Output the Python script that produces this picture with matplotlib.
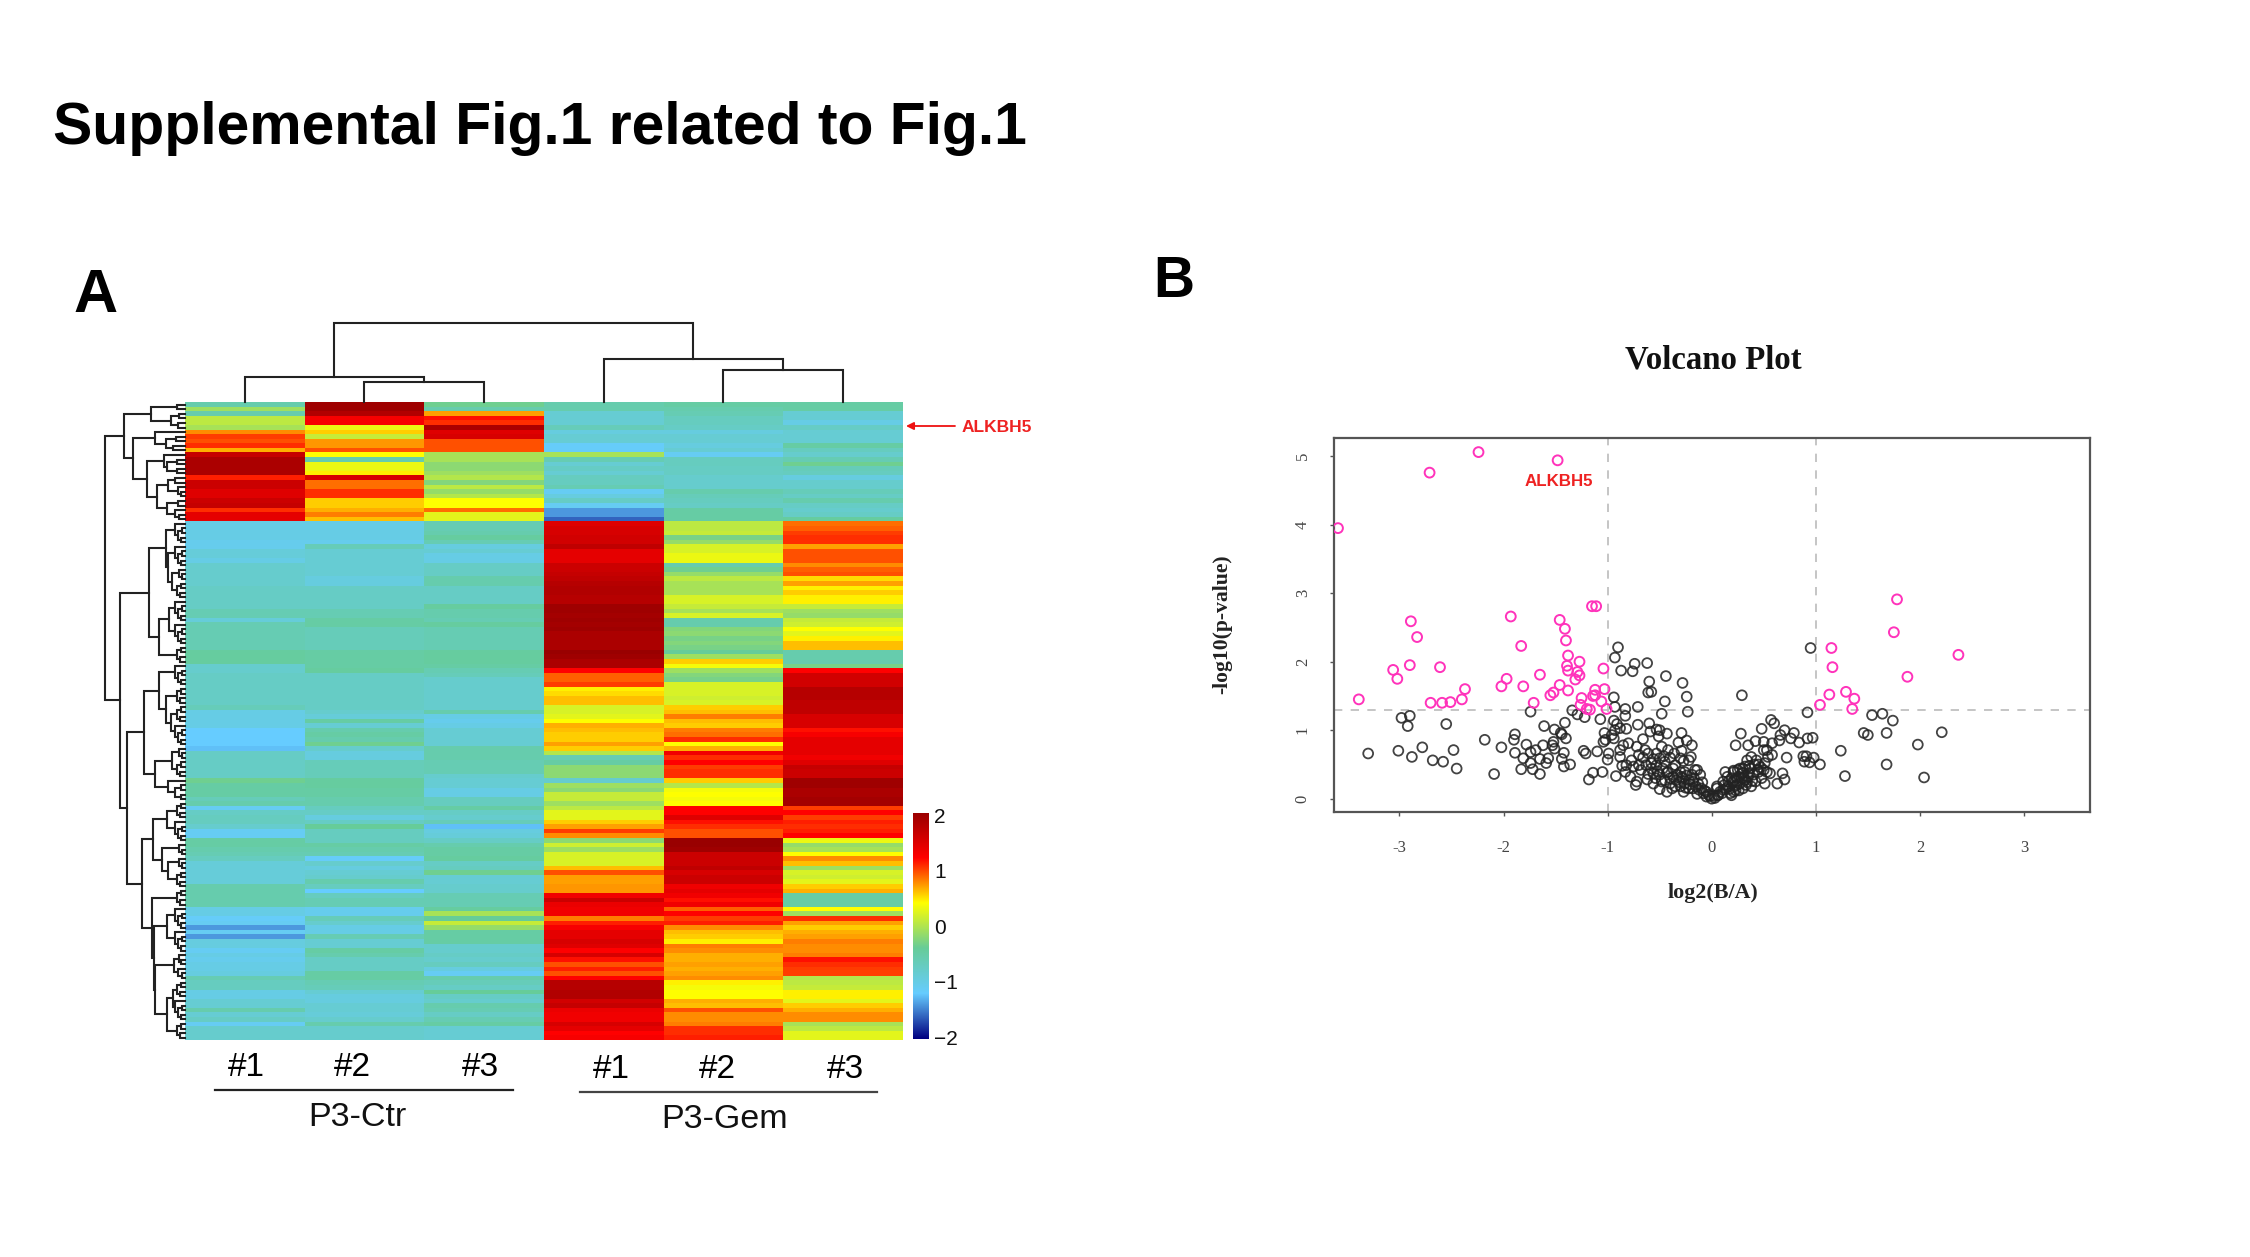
import numpy as np
import matplotlib
matplotlib.use('Agg')
import matplotlib.pyplot as plt
from matplotlib.colors import LinearSegmentedColormap

plt.rcParams['font.family'] = ['Liberation Sans', 'DejaVu Sans']

W, H = 2250, 1257

# heatmap columns, top row first
ctr1 = [-.55, -.1, -.55, .05, .05, -.05, .75, 1.0, .95, 1.05, .65, 1.65, 1.85, 1.85, 1.85, 1.85, 1.1, 1.6, 1.6, 1.45, 1.45, 1.6, 1.65, 1.05, 1.4, 1.4,
        -1.0, -1.0, -1.0, -1.0, -1.05, -1.05, -.9, -.9, -1.0, -.8, -.8, -.8, -.8, -.8, -.75, -.75, -.75, -.75, -.75, -.6, -.6, -.9, -.6, -.6, -.6, -.6, -.6, -.6, -.45, -.45, -.45, -.8, -.8,
        -.75, -.75, -.75, -.75, -.75, -.75, -.75, -.65, -1.0, -1.0, -1.0, -1.0, -1.2, -1.2, -1.2, -1.2, -1.25, -.75, -.75, -.75, -.75, -.75, -.75, -.35, -.5, -.5, -.5, -.65,
        -.55, -1.1, -.75, -.7, -.7, -.8, -1.1, -1.1, -.5, -.5, -.55, -.6, -.7, -.9, -.9, -.9, -.9, -.9, -.55, -.55, -.55, -.55, -.55, -1.0, -1.0, -1.15, -1.1, -1.4, -1.1, -1.4, -.95, -.95,
        -1.1, -1.0, -1.05, -1.0, -1.0, -.95, -.6, -.7, -.7, -1.0, -1.0, -.85, -.85, -.55, -.85, -.75, -1.1, -.8, -.8, -.8]
ctr2 = [1.95, 1.95, 1.8, 1.25, 1.25, .3, .55, .1, .72, .72, .95, .4, -.55, .3, .3, .45, 1.5, .85, .85, 1.05, 1.05, .55, .55, .65, .8, .6,
        -1.0, -1.0, -1.0, -1.0, -1.05, -.65, -.85, -.85, -.85, -.85, -.85, -.85, -.95, -.95, -.75, -.75, -.75, -.75, -.75, -.6, -.6, -.5, -.5, -.65, -.65, -.65, -.65, -.65, -.5, -.5, -.5, -.5, -.45,
        -.75, -.75, -.75, -.75, -.75, -.75, -.75, -.75, -.8, -.9, -.5, -.85, -.55, -.5, -.55, -.35, -.8, -.95, -.95, -.65, -.65, -.65, -.65, -.45, -.45, -.5, -.5, -.55,
        -.55, -.7, -.75, -.95, -.75, -.4, -.7, -.7, -.7, -.5, -.55, -.6, -1.15, -.8, -.95, -.85, -.8, -.55, -.7, -1.2, -.7, -.6, -.6, -1.05, -1.05, -.65, -.8, -1.0, -1.0, -.6, -.85, -.85,
        -.5, -.55, -.75, -.75, -.75, -.5, -.5, -.6, -.65, -.85, -.95, -.95, -.85, -.85, -.9, -.8, -.55, -.8, -.8, -.8]
ctr3 = [-.35, -.55, .7, 1.15, 1.05, 1.85, 1.45, 1.5, .95, .95, .95, -.05, -.05, -.2, -.2, -.1, .0, -.25, .05, -.15, .0, .4, .4, .85, .25, .25,
        -.6, -.6, -.55, -.45, -.6, -.95, -.85, -1.0, -1.0, -.75, -.75, -.75, -.55, -.55, -.75, -.75, -.75, -.75, -.45, -.55, -.55, -.6, -.45, -.6, -.6, -.6, -.6, -.6, -.45, -.45, -.45, -.5, -.6,
        -.65, -.8, -.8, -.8, -.8, -.8, -.8, -.8, -.55, -1.0, -1.05, -1.0, -.85, -.85, -.85, -.85, -.55, -.55, -.55, -.6, -.6, -.6, -.8, -.85, -.85, -1.0, -1.0, -.7,
        -.7, -.5, -.75, -.8, -.65, -1.25, -.95, -.9, -.75, -.55, -.5, -.5, -.45, -.75, -.7, -.35, -.85, -.85, -.8, -.8, -.6, -.6, -.6, -.45, -.05, -.4, .1, -.15, -.5, -.5, -.5, -.8,
        -.8, -.75, -.8, -.7, -.95, -1.1, -.55, -.65, -.75, -.4, -.75, -.8, -.55, -.6, -.75, -.6, -.5, -.85, -.85, -.85]
gem1 = [-.55, -.55, -.85, -.85, -.85, -.65, -.95, -.85, -.85, -1.15, -1.15, -.05, -.6, -.85, -.75, -.85, -.7, -.7, -.6, -1.1, -.95, -.75, -1.1, -1.4, -1.4, -1.6,
        1.45, 1.5, 1.5, 1.55, 1.55, 1.7, 1.4, 1.4, 1.4, 1.6, 1.6, 1.65, 1.7, 1.75, 1.8, 1.8, 1.75, 1.75, 1.95, 1.95, 1.9, 1.95, 1.9, 1.95, 1.85, 1.85, 1.85, 1.85, 2.0, 1.95, 1.85, 1.85, 1.2,
        .9, .9, 1.0, .45, .5, .6, .6, .2, .2, .25, .4, .65, .6, .55, .55, .7, .55, .0, -.6, -.5, -.2, -.2, -.2, -.8, -.1, -.2, .1, .1,
        -.1, .05, .25, .25, .55, .7, 1.0, .75, -.2, .15, -.1, .2, .2, .2, .6, .95, .7, .7, .72, .72, 1.3, 1.6, 1.35, 1.3, 1.3, .8, 1.1, 1.25, 1.4, 1.4, 1.5, 1.45,
        1.2, 1.5, 1.15, .95, 1.1, .95, 1.2, 1.75, 1.75, 1.8, 1.8, 1.55, 1.65, 1.35, 1.3, 1.3, 1.5, 1.4, 1.2, 1.25]
gem2 = [-.5, -.55, -.6, -.7, -.7, -.75, -.95, -.85, -.85, -.95, -.85, -1.1, -.7, -.7, -.72, -.72, -.8, -.8, -.8, -.55, -.65, -.7, -.75, -.5, -.5, -.5,
        .05, .05, .1, -.3, -.15, .2, .2, .3, .3, -.55, -.35, -.15, .05, -.05, -.05, -.05, .2, .2, .1, -.05, .2, -.55, -.55, -.25, -.2, -.3, -.25, -.3, -.4, -.1, .55, .35, -.1,
        -.25, -.3, .2, .2, .2, .15, .2, .55, .6, .8, .6, .55, .8, .85, 1.05, .4, .65, 1.3, 1.05, 1.2, 1.0, 1.05, 1.05, .55, .0, .35, .4, .35,
        .4, 1.2, 1.2, 1.45, 1.15, 1.05, .95, .95, 2.0, 2.0, 1.95, 1.6, 1.6, 1.6, 1.7, 1.5, 1.6, 1.6, 1.3, 1.4, 1.3, 1.15, 1.3, .9, 1.2, 1.0, 1.1, .75, .6, .55, .45, .8,
        .75, .65, .65, .7, .65, .7, .75, .45, .35, .4, .4, .65, .6, .95, .75, .75, .8, 1.05, 1.05, 1.1]
gem3 = [-.5, -.5, -.85, -.85, -1.0, -.75, -.85, -.85, -.85, -.5, -.7, -.8, -.6, -.35, -.65, -.7, -.95, -.8, -.8, -.65, -.75, -.55, -.75, -.8, -.75, -.45,
        .85, .9, 1.0, 1.05, 1.05, .7, .95, .95, .95, .75, .9, .95, .5, .7, .45, .55, .45, .45, .1, -.1, -.15, .1, .15, .4, .25, .45, .6, .6, -.55, -.55, -.55, -.3, 1.2,
        1.55, 1.55, 1.55, 1.75, 1.75, 1.75, 1.7, 1.7, 1.7, 1.5, 1.5, 1.5, 1.15, 1.25, 1.4, 1.4, 1.4, 1.4, 1.3, 1.45, 1.65, 1.6, 1.6, 1.95, 1.95, 1.85, 1.85, 1.9,
        1.9, 1.0, 1.2, 1.0, 1.1, 1.05, 1.1, 1.2, .3, -.15, -.05, .4, .75, .6, -.1, .2, .15, .25, .55, .65, -.5, -.5, -.5, .4, -.1, 1.05, .7, .55, .65, .7, .8, .75,
        .75, .8, 1.15, 1.05, 1.0, 1.0, .0, .05, .1, .45, .45, .25, .55, .65, .75, .75, -.05, .05, .25, .25]
assert [len(c) for c in (ctr1, ctr2, ctr3, gem1, gem2, gem3)] == [139] * 6, [len(c) for c in (ctr1, ctr2, ctr3, gem1, gem2, gem3)]

group_labels = ['P3-Ctr', 'P3-Gem']
sample_labels = ['#1', '#2', '#3']
cb_ticks = [-2, -1, 0, 1, 2]

# small bits of the row tree: (height, child, child), 0 is a leaf
b2 = (.05, 0, 0)
b3 = (.07, 0, (.04, 0, 0))
b4 = (.10, (.05, 0, 0), (.06, 0, 0))
b5 = (.12, 0, (.09, (.04, 0, 0), (.05, 0, 0)))
b6 = (.14, (.08, 0, (.05, 0, 0)), (.09, 0, (.04, 0, 0)))
b7 = (.16, (.08, 0, (.04, 0, 0)), (.10, (.05, 0, 0), (.06, 0, 0)))

row_top = (.76,
           (.42, (.10, 0, 0), (.17, (.07, 0, 0), (.09, 0, 0))),
           (.645,
            (.375, 0, (.24, (.11, 0, 0), (.15, 0, 0))),
            (.47,
             (.26, 0, (.22, (.10, 0, 0), (.10, 0, 0))),
             (.35, (.21, (.12, 0, 0), (.09, 0, (.05, 0, 0))), (.22, (.09, 0, 0), (.13, 0, (.08, 0, 0)))))))
row_upper = (.445,
             (.24, b5, (.21, b5, b7)),
             (.32, (.20, b5, b5), b4))
row_lower = (.72,
             (.51,
              (.33, b5, (.24, b4, (.17, b4, b5))),
              (.37, (.16, b3, b4), (.21, 0, (.12, b2, b2)))),
             (.54,
              (.40, (.22, b4, b5), (.29, b3, (.21, b3, b4))),
              (.41, b4, (.39, (.23, b5, b5), (.37, b6, (.22, (.15, b4, b5), b4))))))
row_tree = (1.0, row_top, (.81, row_upper, row_lower))

col_tree = (1.0,
            (.32, 0, (.26, 0, 0)),
            (.54, 0, (.41, 0, 0)))

# volcano points
up_x = [-3.59, -2.71, -2.24, -1.48, -1.11, -1.15, -2.89, -2.83, -2.90, -3.06, -3.02, -3.39, -2.70, -2.59, -2.51, -2.40, -2.37, -2.61, -1.93, -1.83, -1.97, -2.02, -1.81, -1.71, -1.65,
        -1.46, -1.41, -1.40, -1.38, -1.27, -1.39, -1.38, -1.29, -1.27, -1.31, -1.46, -1.38, -1.52, -1.55, -1.04, -1.03, -1.12, -1.12, -1.14, -1.25, -1.06, -1.26, -1.20, -1.17, -1.01,
        1.78, 1.75, 1.15, 1.16, 2.37, 1.88, 1.29, 1.13, 1.37, 1.04, 1.35]
up_y = [3.95, 4.76, 5.06, 4.94, 2.81, 2.81, 2.59, 2.36, 1.95, 1.88, 1.75, 1.45, 1.40, 1.40, 1.41, 1.45, 1.60, 1.92, 2.66, 2.23, 1.75, 1.64, 1.64, 1.40, 1.81,
        2.61, 2.48, 2.31, 2.09, 2.00, 1.94, 1.87, 1.85, 1.80, 1.74, 1.66, 1.58, 1.55, 1.51, 1.90, 1.60, 1.59, 1.51, 1.50, 1.47, 1.42, 1.37, 1.31, 1.30, 1.31,
        2.91, 2.43, 2.20, 1.92, 2.10, 1.78, 1.56, 1.52, 1.46, 1.37, 1.31]
ns_x = [-2.98, -2.90, -2.92, -2.55, -3.30, -3.01, -2.88, -2.78, -2.68, -2.58, -2.48, -2.45, -2.18, -2.02, -2.09, -1.89, -1.90, -1.89, -1.78, -1.81, -1.83, -1.74, -1.69, -1.74, -1.72,
        -1.65, -1.62, -1.65, -1.57, -1.59, -1.61, -1.51, -1.45, -1.44, -1.52, -1.53, -1.51, -1.40, -1.41, -1.42, -1.44, -1.42, -1.36, -1.74, -1.34, -1.29, -1.22, -1.07, -1.23, -1.21,
        -1.10, -1.14, -1.05, -1.18,
        -.90, -.93, -.87, -.76, -.74, -.62, -.60, -.44, -.28, -.24, -.45, -.61, -.58, -.94, -.93, -.83, -.71, -.48, -.23, -.83, -.94, -.91, -.71, -.60, -.53, -.50, -.82, -1.03, -1.02, -1.04,
        -.96, -.93, -.88, -.94, -.29, -.43, -.51, -.59, -.66, -.32, -.24, -.19, -.80, -.85, -.88, -.99, -1.0, -.72, -.64, -.53, -.48, -.42, -.29, -.20, -.70, -.77, -.88, -.53, -.45, -.35,
        -.22, -.30, -.86, -.82, -.75, -.63, -.58, -.50, -.70, -.92, -.83, -.78, -.72, -.73, -.61, -.54, -.50, -.43, -.48, -.42, -.37, -.37, -.30, -.29, -.22, -.16, -.18, -.13, -.14, -.08,
        -.05, .0, .03, .06, .05, .11, .16, .21, .22, .19, .27, .29, .34, .35,
        -.56, -.50, -.45, -.40, -.34, -.26, -.19, -.11, -.26, -.30, -.35, -.22, -.27, -.56, -.18, -.10, -.05, -.02,
        .13, .11, .05, .06, .10, .18, .21, .16, .21, .19, .24, .27, .29, .32, .32, .37, .35, .40, .43, .38, .45, .50, .51, .48, .53, .56, .51, .54, .50, .58, .53, .68, .70, .63, .72,
        .29, .28, .23, .35, .42, .50, .58, .65, .66, .48, .57, .60, .70, .76, .79, .84, .92, .97, .92, .95, .88, .91, .89, .94, .98, 1.04, 1.24, 1.28, 1.54, 1.64, 1.74, 1.46, 1.50, 1.68,
        2.21, 1.98, 1.68, 2.04, .15, .24, .30, .33, .42, .38, .26, .14, .22, .30, .45,
        -.68, -.62, -.58, -.52, -.47, -.43, -.40, -.38, -.33, -.31, -.28, -.25, -.24, -.21, -.17, -.15, -.12, -.09, -.07, -.03, -.46, -.40, -.56, -.66, -.61, -.36, -.27, -.14,
        .02, .08, .12, .17, .20, .23, .26, .31, .34, .39, .44, .47, .36, .41, .25, .30]
ns_y = [1.18, 1.21, 1.06, 1.09, .66, .70, .61, .75, .56, .54, .71, .44, .86, .75, .36, .94, .86, .67, .79, .59, .43, .68, .71, .52, .43,
        .36, .78, .58, .59, .52, 1.06, 1.01, .96, .94, .83, .78, .73, .88, 1.11, .67, .58, .47, .50, 1.27, 1.29, 1.23, 1.19, 1.16, .70, .66,
        .69, .38, .39, .28,
        2.21, 2.06, 1.87, 1.86, 1.97, 1.98, 1.71, 1.79, 1.69, 1.49, 1.42, 1.55, 1.56, 1.48, 1.34, 1.31, 1.34, 1.24, 1.27, 1.21, 1.14, 1.09, 1.08, 1.10, 1.01, 1.00, 1.02, .96, .86, .83,
        .93, 1.0, 1.03, .88, .96, .95, .91, .98, .87, .82, .85, .78, .81, .78, .71, .66, .57, .76, .71, .66, .76, .71, .70, .61, .64, .56, .61, .49, .54, .49,
        .56, .59, .48, .49, .47, .49, .52, .59, .49, .33, .39, .32, .25, .20, .36, .30, .14, .10, .25, .39, .44, .32, .18, .32, .27, .42, .25, .22, .07, .08,
        .03, .0, .01, .05, .18, .13, .18, .41, .27, .05, .44, .30, .56, .37,
        .37, .35, .27, .22, .27, .22, .35, .35, .39, .39, .18, .15, .10, .22, .15, .15, .10, .04,
        .39, .25, .15, .05, .08, .08, .10, .25, .39, .30, .20, .22, .37, .27, .47, .44, .32, .35, .56, .61, .39, .42, .22, .30, .39, .37, .52, .61, .71, .64, .71, .37, .28, .22, .60,
        1.51, .95, .78, .78, .84, .83, .81, .85, .93, 1.02, 1.15, 1.10, 1.0, .88, .96, .82, .88, .89, 1.26, 2.20, .62, .62, .54, .53, .60, .50, .70, .33, 1.22, 1.24, 1.14, .96, .93, .96,
        .97, .79, .50, .31, .32, .30, .15, .20, .25, .18, .12, .15, .18, .38, .50,
        .42, .28, .44, .40, .44, .38, .30, .15, .35, .24, .30, .16, .34, .21, .30, .18, .13, .24, .12, .06, .62, .60, .58, .60, .66, .66, .55, .42,
        .04, .10, .20, .14, .24, .12, .32, .30, .24, .26, .42, .46, .48, .50, .42, .44]
xticks = [-3, -2, -1, 0, 1, 2, 3]
yticks = [0, 1, 2, 3, 4, 5]


def px_axes(x0, y0, x1, y1):
    # rect given in pixels, y down
    return fig.add_axes([x0 / W, 1 - y1 / H, (x1 - x0) / W, (y1 - y0) / H])


def px_text(x, y, s, **kw):
    kw.setdefault('ha', 'center')
    kw.setdefault('va', 'center')
    return fig.text(x / W, 1 - y / H, s, **kw)


def draw_tree(ax, node, counter, horizontal):
    # returns (leaf position, height) of the node
    if node == 0:
        counter[0] += 1
        return counter[0] - 0.5, 0
    h, a, b = node
    pa, ha = draw_tree(ax, a, counter, horizontal)
    pb, hb = draw_tree(ax, b, counter, horizontal)
    xs = [ha, h, h, hb]
    ys = [pa, pa, pb, pb]
    if horizontal:
        ax.plot(ys, xs, color='#222222', lw=1.5, solid_joinstyle='miter')
    else:
        ax.plot(xs, ys, color='#222222', lw=1.5, solid_joinstyle='miter')
    return (pa + pb) / 2, h


fig = plt.figure(figsize=(W / 100, H / 100), dpi=100, facecolor='white')

px_text(53, 129, 'Supplemental Fig.1 related to Fig.1', ha='left', fontsize=42.4, fontweight='bold', color='black')
px_text(96, 296, 'A', fontsize=44, fontweight='bold', color='black')
px_text(1174, 282, 'B', fontsize=41, fontweight='bold', color='black')

# heatmap
heat_cmap = LinearSegmentedColormap.from_list('heat', ['#000080', '#66CCFF', '#66CC99', '#FFFF00', '#FF0000', '#990000'], N=256)
data = np.array([ctr1, ctr2, ctr3, gem1, gem2, gem3]).T
ax = px_axes(185, 402.3, 902.5, 1040)
ax.imshow(data, cmap=heat_cmap, vmin=-2, vmax=2, aspect='auto', interpolation='nearest')
ax.axis('off')

# dendrograms
ax_left = px_axes(105, 402.3, 185, 1040)
draw_tree(ax_left, row_tree, [0], False)
ax_left.set_xlim(1.0, 0)
ax_left.set_ylim(data.shape[0], 0)
ax_left.axis('off')
for line in ax_left.lines:
    line.set_clip_on(False)

ax_top = px_axes(185, 322.7, 902.5, 402.3)
draw_tree(ax_top, col_tree, [0], True)
ax_top.set_xlim(0, 6)
ax_top.set_ylim(0, 1.0)
ax_top.axis('off')
for line in ax_top.lines:
    line.set_clip_on(False)

# colour key
ax_cb = px_axes(913.3, 812.7, 928.7, 1039)
grad = np.linspace(2, -2, 256).reshape(-1, 1)
ax_cb.imshow(grad, cmap=heat_cmap, vmin=-2, vmax=2, aspect='auto', extent=[0, 1, -2.03, 2.05])
ax_cb.set_xticks([])
ax_cb.set_yticks(cb_ticks)
ax_cb.set_yticklabels([str(t).replace('-', '\u2212') for t in cb_ticks], fontsize=15, color='#111111')
ax_cb.yaxis.tick_right()
ax_cb.tick_params(axis='y', length=0, pad=4)
for s in ax_cb.spines.values():
    s.set_visible(False)

# arrow + gene label
fig.add_artist(matplotlib.patches.FancyArrowPatch((955 / W, 1 - 426 / H), (906 / W, 1 - 426 / H), transform=fig.transFigure,
                                                  arrowstyle='-|>', mutation_scale=11, color='#ee1111', lw=1.3, shrinkA=0, shrinkB=0))
px_text(997, 427, 'ALKBH5', fontsize=12.5, fontweight='bold', color='#ee2222')

# sample labels
for x, s in zip([246, 352, 480], sample_labels):
    px_text(x, 1068, s, fontsize=24, color='black')
for x, s in zip([611, 717, 845], sample_labels):
    px_text(x, 1070, s, fontsize=24, color='black')
fig.add_artist(plt.Line2D([215 / W, 513 / W], [1 - 1090 / H, 1 - 1090 / H], color='#222222', lw=1.6))
fig.add_artist(plt.Line2D([579.6 / W, 877.4 / W], [1 - 1092 / H, 1 - 1092 / H], color='#444444', lw=1.6))
px_text(357, 1118, group_labels[0], fontsize=24.5, color='#111111')
px_text(725, 1119, group_labels[1], fontsize=24.5, color='#111111')

# volcano
ax_v = px_axes(1333.7, 437.7, 2090, 812)
ax_v.scatter(ns_x, ns_y, s=50, facecolors='none', edgecolors='#222222', linewidths=1.3, alpha=0.85, zorder=3)
ax_v.scatter(up_x, up_y, s=50, facecolors='none', edgecolors='#ff33bb', linewidths=1.4, zorder=4)
ax_v.axvline(-1, color='#bbbbbb', lw=1.2, ls=(0, (5, 5)), zorder=1)
ax_v.axvline(1, color='#bbbbbb', lw=1.2, ls=(0, (5, 5)), zorder=1)
ax_v.axhline(1.3, color='#bbbbbb', lw=1.2, ls=(0, (5, 5)), zorder=1)
ax_v.set_xlim((1333.7 - 1711.7) / 104.1, (2090 - 1711.7) / 104.1)
ax_v.set_ylim((798.7 - 812) / 68.5, (798.7 - 437.7) / 68.5)
ax_v.set_xticks(xticks)
ax_v.set_yticks(yticks)
ax_v.set_xticklabels([str(t) for t in xticks], fontsize=12, family=['Liberation Serif'], color='#444444')
ax_v.set_yticklabels([str(t) for t in yticks], fontsize=12, family=['Liberation Serif'], color='#444444', rotation=90, va='center')
ax_v.tick_params(axis='x', length=3, width=1, color='#555555', pad=17)
ax_v.tick_params(axis='y', length=3, width=1, color='#555555', pad=13.5)
for s in ax_v.spines.values():
    s.set_color('#555555')
    s.set_linewidth(1.6)
ax_v.text(-1.465, 4.635, 'ALKBH5', color='#ee2222', fontsize=12.2, fontweight='bold', ha='center', va='center', zorder=5)

px_text(1713, 360, 'Volcano Plot', fontsize=23.7, fontweight='bold', family=['Liberation Serif'], color='#111111')
px_text(1713, 893, 'log2(B/A)', fontsize=15.8, fontweight='bold', family=['Liberation Serif'], color='#222222')
px_text(1222, 624, '-log10(p-value)', fontsize=15.6, fontweight='bold', family=['Liberation Serif'], color='#222222', rotation=90)

fig.savefig('out.png', dpi=100, facecolor='white')
